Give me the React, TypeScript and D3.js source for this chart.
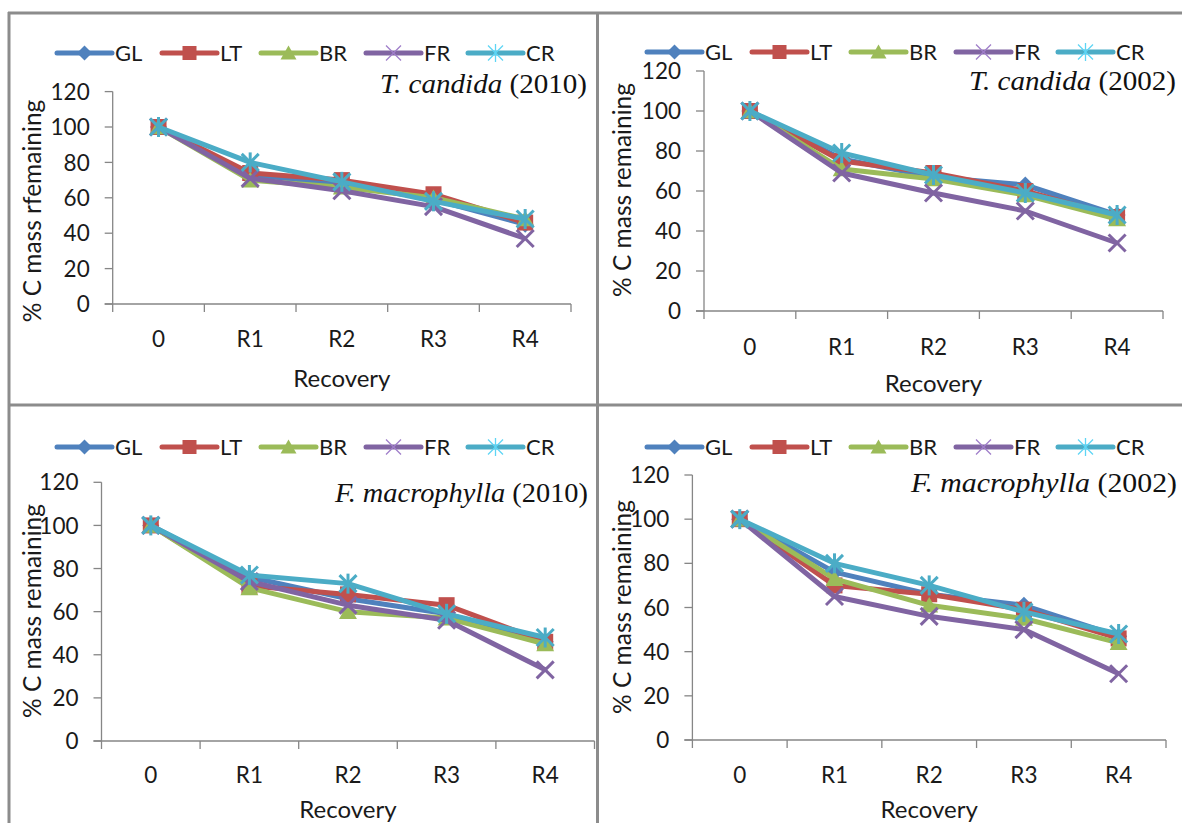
import React from "react";
import * as d3 from "d3";

const categories = ["0", "R1", "R2", "R3", "R4"];
const seriesNames = ["GL", "LT", "BR", "FR", "CR"];
const seriesColors = ["#4F81BD", "#C0504D", "#9BBB59", "#8064A2", "#4BACC6"];
const yTicks = [0, 20, 40, 60, 80, 100, 120];

// values per series, order GL, LT, BR, FR, CR
const tCandida2010 = [
  [100, 73, 68, 59, 45],
  [100, 74, 70, 62, 46],
  [100, 70, 66, 60, 48],
  [100, 71, 64, 55, 37],
  [100, 80, 69, 58, 48],
];
const tCandida2002 = [
  [100, 76, 67, 63, 48],
  [100, 75, 69, 60, 47],
  [100, 71, 66, 58, 46],
  [100, 69, 59, 50, 34],
  [100, 79, 68, 59, 48],
];
const fMacro2010 = [
  [100, 76, 66, 59, 46],
  [100, 72, 68, 63, 46],
  [100, 71, 60, 57, 45],
  [100, 74, 63, 56, 33],
  [100, 77, 73, 59, 48],
];
const fMacro2002 = [
  [100, 76, 66, 61, 47],
  [100, 70, 66, 59, 46],
  [100, 73, 61, 55, 44],
  [100, 65, 56, 50, 30],
  [100, 80, 70, 58, 48],
];

const panels = [
  { species: "T. candida", year: "(2010)", ylabel: "% C mass rfemaining", data: tCandida2010,
    x0: 112.7, x1: 571, yb: 304, yt: 91.6, lx: 57, ly: 53, tr: 587, tb: 93, tw: 207, yl: 41, yc: 211, xlb: 387, cb: 347 },
  { species: "T. candida", year: "(2002)", ylabel: "% C mass remaining", data: tCandida2002,
    x0: 704, x1: 1163, yb: 311, yt: 71, lx: 647, ly: 52, tr: 1176, tb: 90, tw: 207, yl: 631, yc: 190, xlb: 392, cb: 355 },
  { species: "F. macrophylla", year: "(2010)", ylabel: "% C mass remaining", data: fMacro2010,
    x0: 101.5, x1: 594.5, yb: 741, yt: 482.3, lx: 57, ly: 447, tr: 588, tb: 502, tw: 253, yl: 41, yc: 611, xlb: 818, cb: 783 },
  { species: "F. macrophylla", year: "(2002)", ylabel: "% C mass remaining", data: fMacro2002,
    x0: 692.4, x1: 1166, yb: 740, yt: 475, lx: 647, ly: 447, tr: 1177, tb: 492, tw: 266, yl: 631, yc: 607, xlb: 818, cb: 783 },
];

const legendOffsets = [0, 105, 204, 309, 411];
const axisColor = "#868686";
const sans = "Lato, 'Open Sans', sans-serif";

function Marker({ i, x, y, legend }: { i: number; x: number; y: number; legend?: boolean }) {
  const c = seriesColors[i];
  if (i === 0) {
    const r = legend ? 7.5 : 8.5;
    return <path d={`M${x},${y - r}L${x + r},${y}L${x},${y + r}L${x - r},${y}Z`} fill={c} />;
  }
  if (i === 1) {
    const s = legend ? 7 : 8;
    return <rect x={x - s} y={y - s} width={2 * s} height={2 * s} fill={c} />;
  }
  if (i === 2) {
    const k = legend ? 1 : 1.12;
    return <path d={`M${x},${y - 7.5 * k}L${x + 8 * k},${y + 6.5 * k}L${x - 8 * k},${y + 6.5 * k}Z`} fill={c} />;
  }
  const s = legend ? 7.5 : 8.5;
  const sw = legend ? 1.3 : 3;
  const col = legend ? d3.color(c)!.brighter(0.6).toString() : c;
  return (
    <g stroke={col} strokeWidth={sw} fill="none">
      <line x1={x - s} y1={y - s} x2={x + s} y2={y + s} />
      <line x1={x - s} y1={y + s} x2={x + s} y2={y - s} />
      {i === 4 && <line x1={x} y1={y - s - 1.5} x2={x} y2={y + s + 1.5} />}
    </g>
  );
}

function Panel({ p }: { p: (typeof panels)[number] }) {
  const x = d3.scaleBand<string>().domain(categories).range([p.x0, p.x1]);
  const y = d3.scaleLinear().domain([0, 120]).range([p.yb, p.yt]);
  const cx = (c: string) => (x(c) ?? 0) + x.bandwidth() / 2;
  const line = d3
    .line<number>()
    .x((_, j) => cx(categories[j]))
    .y((v) => y(v));
  const boundaries = categories.map((c) => x(c) ?? 0).concat([p.x1]);

  return (
    <g>
      {/* axes */}
      <line x1={p.x0} x2={p.x0} y1={y(120)} y2={y(0)} stroke={axisColor} strokeWidth={1.3} />
      <line x1={p.x0 - 8} x2={p.x1} y1={y(0)} y2={y(0)} stroke={axisColor} strokeWidth={1.3} />
      {yTicks.map((t) => (
        <g key={t}>
          <line x1={p.x0 - 8} x2={p.x0} y1={y(t)} y2={y(t)} stroke={axisColor} strokeWidth={1.3} />
          <text x={p.x0 - 23} y={y(t)} dy="0.36em" textAnchor="end" fontSize={22.5} fontFamily={sans} fill="#1a1a1a">
            {t}
          </text>
        </g>
      ))}
      {boundaries.map((b, k) => (
        <line key={k} x1={b} x2={b} y1={y(0)} y2={y(0) + 8} stroke={axisColor} strokeWidth={1.3} />
      ))}
      {categories.map((c) => (
        <text key={c} x={cx(c)} y={p.cb} textAnchor="middle" fontSize={22.5} fontFamily={sans} fill="#1a1a1a">
          {c}
        </text>
      ))}
      <text x={(p.x0 + p.x1) / 2} y={p.xlb} textAnchor="middle" fontSize={24} fontFamily={sans} fill="#1a1a1a">
        Recovery
      </text>
      <text
        transform={`translate(${p.yl},${p.yc}) rotate(-90)`}
        textAnchor="middle"
        fontSize={24.5}
        fontFamily={sans}
        fill="#1a1a1a"
      >
        {p.ylabel}
      </text>

      {/* title */}
      <text
        x={p.tr - p.tw}
        y={p.tb}
        fontSize={27}
        fontFamily="'Liberation Serif', serif"
        fill="#111"
        textLength={p.tw}
        lengthAdjust="spacingAndGlyphs"
      >
        <tspan fontStyle="italic">{p.species}</tspan>
        <tspan> {p.year}</tspan>
      </text>

      {/* series */}
      {p.data.map((vals, i) => (
        <g key={seriesNames[i]}>
          <path d={line(vals) ?? ""} fill="none" stroke={seriesColors[i]} strokeWidth={5} strokeLinejoin="round" />
          {vals.map((v, j) => (
            <Marker key={j} i={i} x={cx(categories[j])} y={y(v)} />
          ))}
        </g>
      ))}

      {/* legend */}
      {seriesNames.map((s, i) => {
        const lx = p.lx + legendOffsets[i];
        return (
          <g key={s}>
            <line x1={lx} x2={lx + 55} y1={p.ly} y2={p.ly} stroke={seriesColors[i]} strokeWidth={5} strokeLinecap="round" />
            <Marker i={i} x={lx + 27.5} y={p.ly} legend />
            <text x={lx + 58} y={p.ly} dy="0.36em" fontSize={22} fontFamily={sans} fill="#1a1a1a">
              {s}
            </text>
          </g>
        );
      })}
    </g>
  );
}

export default function App() {
  const border = "#8c8c8c";
  return (
    <svg width={1182} height={823} style={{ position: "absolute", left: 0, top: 0, background: "#fff" }}>
      <rect width={1182} height={823} fill="#fff" />
      <line x1={8} x2={1182} y1={13} y2={13} stroke={border} strokeWidth={3} />
      <line x1={8} x2={1182} y1={405} y2={405} stroke={border} strokeWidth={3} />
      <line x1={9} x2={9} y1={12} y2={823} stroke={border} strokeWidth={3} />
      <line x1={597.5} x2={597.5} y1={12} y2={823} stroke={border} strokeWidth={3} />
      {panels.map((p, k) => (
        <Panel key={k} p={p} />
      ))}
    </svg>
  );
}
